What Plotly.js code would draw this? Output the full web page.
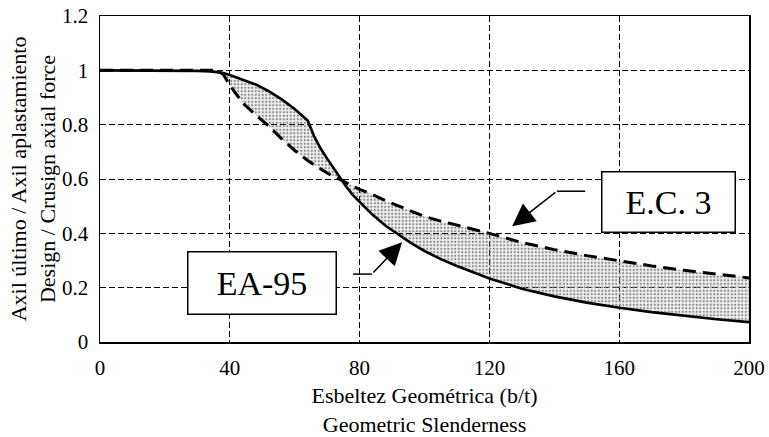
<!DOCTYPE html>
<html><head><meta charset="utf-8">
<script src="https://cdn.plot.ly/plotly-3.0.1.min.js"></script>
<style>html,body{margin:0;padding:0;background:#fff}#chart{width:769px;height:437px}</style>
</head><body><div id="chart"></div>
<script>
// Geometric slenderness (b/t)
const slenderness = [0, 10, 20, 30, 34, 36, 38, 40, 44, 48, 52, 56, 60, 62, 64, 66, 68, 70, 72, 74, 76, 78, 80, 84, 88, 92, 96, 100, 105, 110, 115, 120, 130, 140, 150, 160, 170, 180, 190, 200];
// EA-95 (solid)
const ea95 = [1, 1, 1, 0.998, 0.996, 0.994, 0.99, 0.983, 0.966, 0.948, 0.923, 0.893, 0.858, 0.838, 0.815, 0.757, 0.712, 0.675, 0.64, 0.602, 0.57, 0.54, 0.515, 0.468, 0.428, 0.395, 0.363, 0.335, 0.305, 0.28, 0.257, 0.234, 0.196, 0.168, 0.145, 0.126, 0.11, 0.096, 0.084, 0.073];
// E.C. 3 (dashed)
const ec3 = [1, 1, 1, 1, 1, 1, 0.985, 0.945, 0.88, 0.835, 0.795, 0.748, 0.705, 0.686, 0.668, 0.652, 0.636, 0.622, 0.61, 0.597, 0.585, 0.573, 0.562, 0.543, 0.52, 0.5, 0.482, 0.462, 0.445, 0.43, 0.414, 0.40, 0.366, 0.34, 0.318, 0.298, 0.28, 0.264, 0.25, 0.236];
const xTicks = [0, 40, 80, 120, 160, 200];
const yTicks = [0, 0.2, 0.4, 0.6, 0.8, 1, 1.2];
const labels = {ea: 'EA-95', ec: 'E.C. 3'};

const serif = 'Liberation Serif, Times New Roman, serif';

const traces = [
  {x: slenderness, y: ea95, type: 'scatter', mode: 'lines', name: labels.ea,
   line: {color: '#000', width: 2.6}},
  {x: slenderness, y: ec3, type: 'scatter', mode: 'lines', name: labels.ec,
   line: {color: '#000', width: 3, dash: '13px,7px'},
   fill: 'tonexty', fillcolor: 'rgba(0,0,0,0.08)',
   fillpattern: {shape: '.', fgcolor: '#8a8a8a', bgcolor: 'rgba(0,0,0,0.07)', size: 3.5, solidity: 0.3}}
];

const layout = {
  width: 769, height: 437,
  margin: {l: 100, r: 20, t: 16, b: 95},
  paper_bgcolor: '#fff', plot_bgcolor: '#fff',
  showlegend: false,
  font: {family: serif, color: '#000', size: 21},
  xaxis: {
    range: [0, 200], tickvals: xTicks, ticks: '', ticklabelstandoff: 6,
    showline: true, linecolor: '#000', linewidth: 1.5, mirror: true,
    showgrid: true, gridcolor: '#000', gridwidth: 1, griddash: '6px,3px',
    zeroline: false, tickfont: {size: 21},
    title: {text: 'Esbeltez Geométrica (b/t)<br>Geometric Slenderness', font: {size: 22}, standoff: 16}
  },
  yaxis: {
    range: [0, 1.2], tickvals: yTicks, ticks: '', ticklabelstandoff: 6,
    showline: true, linecolor: '#000', linewidth: 1.5, mirror: true,
    showgrid: true, gridcolor: '#000', gridwidth: 1, griddash: '6px,3px',
    zeroline: false, tickfont: {size: 21},
    title: {text: 'Axil último / Axil aplastamiento<br>Design / Crusign axial force', font: {size: 22}, standoff: 0}
  },
  shapes: [
    {type: 'line', xref: 'x', yref: 'y', x0: 78.0, y0: 0.25, x1: 83.8, y1: 0.25, line: {color: '#000', width: 1.5}},
    {type: 'line', xref: 'x', yref: 'y', x0: 149.5, y0: 0.555, x1: 140.8, y1: 0.555, line: {color: '#000', width: 1.5}}
  ],
  annotations: [
    {x: 50, y: 0.218, xref: 'x', yref: 'y', text: labels.ea, showarrow: false,
     font: {size: 34, family: serif}, bgcolor: '#fff', bordercolor: '#000', borderwidth: 1.5, borderpad: 1,
     width: 145, height: 59},
    {x: 175.3, y: 0.516, xref: 'x', yref: 'y', text: labels.ec, showarrow: false,
     font: {size: 34, family: serif}, bgcolor: '#fff', bordercolor: '#000', borderwidth: 1.5, borderpad: 1,
     width: 130, height: 57},
    {x: 93.1, y: 0.367, xref: 'x', yref: 'y', ax: 83.8, ay: 0.25, axref: 'x', ayref: 'y', text: '',
     showarrow: true, arrowhead: 2, arrowsize: 3, arrowwidth: 1.5, arrowcolor: '#000', standoff: 0},
    {x: 127, y: 0.426, xref: 'x', yref: 'y', ax: 140.8, ay: 0.555, axref: 'x', ayref: 'y', text: '',
     showarrow: true, arrowhead: 2, arrowsize: 3, arrowwidth: 1.5, arrowcolor: '#000', standoff: 0}
  ]
};

Plotly.newPlot('chart', traces, layout, {displayModeBar: false, staticPlot: true});
</script>
</body></html>
